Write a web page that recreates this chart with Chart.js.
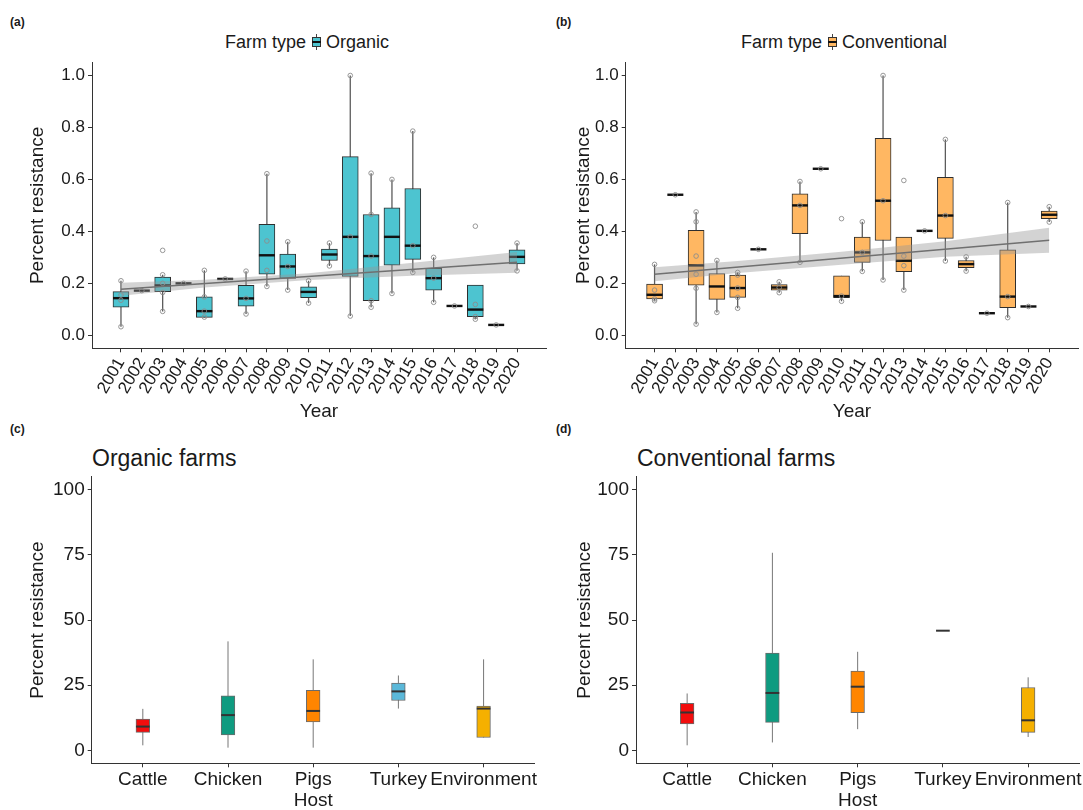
<!DOCTYPE html>
<html>
<head>
<meta charset="utf-8">
<script src="https://cdn.jsdelivr.net/npm/chart.js@4.4.1/dist/chart.umd.min.js"></script>
<style>
  body { margin:0; background:#fff; width:1083px; height:810px; overflow:hidden; position:relative;
         font-family:"Liberation Sans", Arial, Helvetica, sans-serif; color:#1a1a1a; }
  .abs { position:absolute; }
  .tag { font-size:12px; font-weight:700; }
  .legend { display:flex; align-items:center; font-size:18px; line-height:24px; white-space:nowrap; }
  .key { position:relative; width:9px; height:16px; margin:0 5px 0 6px; }
  .key .wh { position:absolute; left:4px; top:0; width:1px; height:16px; background:#444; }
  .key .bx { position:absolute; left:0; top:3px; width:7px; height:8px; border:1px solid #333; }
  .key .md { position:absolute; left:0; top:7px; width:9px; height:2px; background:#111; }
  .ptitle { font-size:23px; line-height:26px; white-space:nowrap; }
  canvas { position:absolute; }
</style>
</head>
<body>
<div class="abs tag" style="left:10px;top:15px">(a)</div>
<div class="abs legend" style="left:225px;top:30px">Farm type<span class="key"><span class="wh"></span><span class="bx" style="background:#4dc4d0"></span><span class="md"></span></span>Organic</div>
<div class="abs tag" style="left:556px;top:15px">(b)</div>
<div class="abs legend" style="left:741px;top:30px">Farm type<span class="key"><span class="wh"></span><span class="bx" style="background:#ffb762"></span><span class="md"></span></span>Conventional</div>
<div class="abs tag" style="left:10px;top:422px">(c)</div>
<div class="abs ptitle" style="left:92px;top:445px">Organic farms</div>
<div class="abs tag" style="left:556px;top:422px">(d)</div>
<div class="abs ptitle" style="left:637px;top:445px">Conventional farms</div>

<canvas id="chartA" width="560" height="370" style="left:0;top:55px"></canvas>
<canvas id="chartB" width="543" height="370" style="left:540px;top:55px"></canvas>
<canvas id="chartC" width="548" height="342" style="left:0;top:470px"></canvas>
<canvas id="chartD" width="538" height="342" style="left:545px;top:470px"></canvas>

<script>
// ---- data: (a) organic, by year ----
const years = [2001,2002,2003,2004,2005,2006,2007,2008,2009,2010,2011,2012,2013,2014,2015,2016,2017,2018,2019,2020];
const loA  = [0.033,0.172,0.092,0.200,0.069,0.217,0.082,0.188,0.174,0.124,0.267,0.074,0.108,0.161,0.242,0.127,0.113,0.062,0.040,0.248];
const q1A  = [0.108,0.172,0.168,0.200,0.069,0.217,0.112,0.235,0.219,0.145,0.288,0.227,0.133,0.270,0.292,0.174,0.113,0.072,0.040,0.275];
const medA = [0.143,0.172,0.192,0.200,0.093,0.217,0.142,0.308,0.265,0.167,0.311,0.379,0.305,0.379,0.345,0.220,0.113,0.099,0.040,0.302];
const q3A  = [0.168,0.172,0.224,0.200,0.148,0.217,0.192,0.427,0.313,0.187,0.332,0.688,0.465,0.491,0.565,0.258,0.113,0.193,0.040,0.329];
const hiA  = [0.210,0.172,0.233,0.200,0.250,0.217,0.247,0.622,0.360,0.210,0.355,1.000,0.624,0.600,0.786,0.300,0.113,0.193,0.040,0.355];
const pointsA = [
  [0.21,0.155,0.135,0.033],[0.172],[0.327,0.233,0.2,0.165,0.092],[0.2],[0.25,0.148,0.093,0.07],
  [0.217],[0.247,0.142,0.082],[0.622,0.363,0.25,0.188],[0.36,0.265,0.174],[0.21,0.124],
  [0.355,0.267],[1.0,0.379,0.074],[0.624,0.465,0.305,0.133,0.108],[0.6,0.161],[0.786,0.345,0.242],
  [0.3,0.22,0.127],[0.113],[0.42,0.119,0.072,0.062],[0.04],[0.355,0.248]
];
const fitYears = [2001, 2020];
const fitA = [0.177, 0.281];
const bandYears = [2001, 2005, 2010, 2015, 2020];
const bandLoA = [0.152, 0.184, 0.213, 0.229, 0.241];
const bandHiA = [0.202, 0.214, 0.239, 0.279, 0.321];

// ---- data: (b) conventional, by year ----
const loB  = [0.133,0.541,0.043,0.088,0.104,0.331,0.164,0.281,0.641,0.131,0.246,0.213,0.174,0.402,0.286,0.247,0.085,0.068,0.111,0.436];
const q1B  = [0.140,0.541,0.193,0.138,0.146,0.331,0.174,0.391,0.641,0.145,0.281,0.365,0.245,0.402,0.373,0.260,0.085,0.106,0.111,0.449];
const medB = [0.156,0.541,0.269,0.188,0.182,0.331,0.184,0.500,0.641,0.151,0.319,0.518,0.287,0.402,0.461,0.274,0.085,0.149,0.111,0.464];
const q3B  = [0.197,0.541,0.404,0.238,0.232,0.331,0.195,0.545,0.641,0.229,0.378,0.758,0.378,0.402,0.608,0.288,0.085,0.329,0.111,0.478];
const hiB  = [0.273,0.541,0.475,0.288,0.242,0.331,0.206,0.592,0.641,0.229,0.437,1.000,0.378,0.402,0.754,0.302,0.085,0.511,0.111,0.495];
const pointsB = [
  [0.273,0.174,0.14,0.133],[0.541],[0.475,0.437,0.305,0.235,0.181,0.043],[0.288,0.088],[0.242,0.232,0.182,0.146,0.104],
  [0.331],[0.206,0.184,0.164],[0.592,0.5,0.281],[0.641],[0.449,0.151,0.131],
  [0.437,0.319,0.246],[1.0,0.518,0.213],[0.596,0.305,0.268,0.174],[0.402],[0.754,0.461,0.286],
  [0.302,0.247],[0.085],[0.511,0.149,0.068],[0.111],[0.495,0.436]
];
const fitB = [0.235, 0.366];
const bandLoB = [0.208, 0.240, 0.272, 0.302, 0.318];
const bandHiB = [0.262, 0.286, 0.322, 0.362, 0.414];

// ---- data: (c) organic / (d) conventional, by host ----
const hosts = ['Cattle','Chicken','Pigs','Turkey','Environment'];
const hostColors = ['#f20d0d','#0f9b80','#ff8500','#5bb8d9','#f5b000'];
const loC  = [1.9, 1.0, 1.0, 16.0, 4.9];
const q1C  = [6.9, 5.9, 10.9, 19.1, 4.9];
const medC = [9.1, 13.5, 15.1, 22.6, 16.0];
const q3C  = [12.0, 20.9, 23.0, 25.8, 17.0];
const hiC  = [15.9, 41.8, 34.9, 28.7, 34.9];
const loD  = [1.9, 3.0, 8.1, 45.9, 5.1];
const q1D  = [10.1, 10.7, 14.4, 45.9, 6.9];
const medD = [14.5, 22.0, 24.4, 45.9, 11.5];
const q3D  = [18.0, 37.3, 30.4, 45.9, 24.1];
const hiD  = [21.8, 75.8, 37.8, 45.9, 28.0];

const yTicksTop = [0, 0.2, 0.4, 0.6, 0.8, 1.0];
const yTicksBottom = [0, 25, 50, 75, 100];

Chart.defaults.font.family = '"Liberation Sans", Arial, Helvetica, sans-serif';
Chart.defaults.color = '#1a1a1a';
Chart.defaults.animation = false;

// whiskers behind the boxes, medians on top of them (dataset 0 = boxes)
function boxParts(xs, lo, hi, med, st) {
  return {
    id: 'boxParts',
    beforeDatasetDraw(chart, args) {
      if (args.index !== 0) return;
      const {ctx, scales:{x, y}} = chart;
      ctx.save();
      ctx.strokeStyle = st.whisker; ctx.lineWidth = st.whiskerWidth;
      xs.forEach((v, i) => {
        if (hi[i] === lo[i]) return;
        const px = x.getPixelForValue(v);
        ctx.beginPath();
        ctx.moveTo(px, y.getPixelForValue(lo[i]));
        ctx.lineTo(px, y.getPixelForValue(hi[i]));
        ctx.stroke();
      });
      ctx.restore();
    },
    afterDatasetDraw(chart, args) {
      if (args.index !== 0) return;
      const {ctx, scales:{x, y}} = chart;
      ctx.save();
      ctx.strokeStyle = st.median; ctx.lineWidth = st.medianWidth;
      xs.forEach((v, i) => {
        const px = x.getPixelForValue(v), py = y.getPixelForValue(med[i]);
        ctx.beginPath();
        ctx.moveTo(px - st.boxWidth / 2, py);
        ctx.lineTo(px + st.boxWidth / 2, py);
        ctx.stroke();
      });
      ctx.restore();
    }
  };
}

function makeChart(id, p) {
  const datasets = [{
    type:'bar', order:3,
    data: p.xs.map((v, i) => ({x:v, y:[p.q1[i], p.q3[i]]})),
    backgroundColor: p.fill, borderColor: p.st.border, borderWidth: p.st.borderWidth,
    borderSkipped: false, barThickness: p.st.boxWidth
  }];
  if (p.points) {
    const pts = [];
    p.points.forEach((arr, i) => arr.forEach(v => pts.push({x:p.xs[i], y:v})));
    datasets.push({ type:'scatter', order:2, data:pts, pointRadius:2.3, pointBorderWidth:0.9,
      pointBorderColor:'#8c8c8c', pointBackgroundColor:'rgba(0,0,0,0)' });
  }
  if (p.fit) {
    datasets.push({ type:'line', order:0, data: fitYears.map((v, i) => ({x:v, y:p.fit[i]})),
      borderColor:'#707070', borderWidth:1.6, pointRadius:0, fill:false });
    datasets.push({ type:'line', order:1, data: bandYears.map((v, i) => ({x:v, y:p.bandHi[i]})),
      borderWidth:0, pointRadius:0, fill:'+1', backgroundColor:'rgba(150,150,150,0.42)' });
    datasets.push({ type:'line', order:1, data: bandYears.map((v, i) => ({x:v, y:p.bandLo[i]})),
      borderWidth:0, pointRadius:0, fill:false });
  }
  const axisGrid = { offset:false, drawOnChartArea:false, drawTicks:true, tickLength:4, color:'#333', tickColor:'#333', tickWidth:1 };
  const axisBorder = { display:true, color:'#333', width:1 };
  return new Chart(document.getElementById(id), {
    type:'bar',
    data:{ datasets },
    plugins:[ boxParts(p.xs, p.lo, p.hi, p.med, p.st) ],
    options:{
      responsive:false, animation:false,
      layout:{ padding:p.pad },
      plugins:{ legend:{display:false}, tooltip:{enabled:false} },
      scales:{
        x:{ type:'linear', min:p.xMin, max:p.xMax, offset:false,
            afterBuildTicks: s => { s.ticks = p.xs.map(v => ({value:v})); },
            afterFit: s => { s.height = p.xAxisH; s.paddingLeft = 0; s.paddingRight = 0; },
            grid:axisGrid, border:axisBorder,
            ticks:{ autoSkip:false, minRotation:p.rot, maxRotation:p.rot, padding:p.xTickPad,
                    color:'#1a1a1a', font:{size:p.xTickSize}, callback:p.xLabel },
            title:{ display:true, text:p.xTitle, color:'#1a1a1a', font:{size:19}, padding:{top:0, bottom:p.xTitlePad} } },
        y:{ type:'linear', min:p.yMin, max:p.yMax, beginAtZero:false,
            afterBuildTicks: s => { s.ticks = p.yTicks.map(v => ({value:v})); },
            afterFit: s => { s.width = p.yAxisW; s.paddingTop = 0; s.paddingBottom = 0; },
            grid:axisGrid, border:axisBorder,
            ticks:{ padding:3, color:'#1a1a1a', font:{size:p.yTickSize}, callback:p.yLabel },
            title:{ display:true, text:'Percent resistance', color:'#1a1a1a', font:{size:19}, padding:{top:p.yTitlePad, bottom:0} } }
      }
    }
  });
}

const topStyle = { border:'#2e2e2e', borderWidth:1, boxWidth:16, whisker:'#5c5c5c', whiskerWidth:1.3, median:'#111', medianWidth:2.4 };
const botStyle = { border:'#6b6b6b', borderWidth:1, boxWidth:13.7, whisker:'#777', whiskerWidth:1, median:'#333', medianWidth:2 };

const topCommon = { xs:years, xMin:1999.61, xMax:2021.39, yMin:-0.05, yMax:1.05, yTicks:yTicksTop,
  rot:60, xTickPad:2, xTickSize:17, yTickSize:17, xLabel: v => String(v), yLabel: v => v.toFixed(1),
  xTitle:'Year', xTitlePad:1.6, xAxisH:76.7, st:topStyle };

makeChart('chartA', Object.assign({}, topCommon, {
  lo:loA, q1:q1A, med:medA, q3:q3A, hi:hiA, points:pointsA, fill:'#4dc4d0',
  fit:fitA, bandLo:bandLoA, bandHi:bandHiA,
  pad:{top:7.5, right:14, left:0, bottom:0}, yAxisW:92, yTitlePad:26.6 }));

makeChart('chartB', Object.assign({}, topCommon, {
  lo:loB, q1:q1B, med:medB, q3:q3B, hi:hiB, points:pointsB, fill:'#ffb762',
  fit:fitB, bandLo:bandLoB, bandHi:bandHiB,
  pad:{top:7.5, right:2.5, left:0, bottom:0}, yAxisW:85.7, yTitlePad:32.6 }));

const hostIdx = hosts.map((h, i) => i + 1);
const botCommon = { xs:hostIdx, xMin:0.4, xMax:5.6, yMin:-5, yMax:105, yTicks:yTicksBottom,
  rot:0, xTickPad:1, xTickSize:19, yTickSize:19, xLabel: v => hosts[v - 1], yLabel: v => String(v),
  xTitle:'Host', xTitlePad:0, xAxisH:48.7, st:botStyle, fill:hostColors };

makeChart('chartC', Object.assign({}, botCommon, {
  lo:loC, q1:q1C, med:medC, q3:q3C, hi:hiC,
  pad:{top:6.7, right:13.3, left:0, bottom:0}, yAxisW:91.7, yTitlePad:26.6 }));

makeChart('chartD', Object.assign({}, botCommon, {
  lo:loD, q1:q1D, med:medD, q3:q3D, hi:hiD,
  pad:{top:6.7, right:3.7, left:0, bottom:0}, yAxisW:91, yTitlePad:28.6 }));
</script>
</body>
</html>
